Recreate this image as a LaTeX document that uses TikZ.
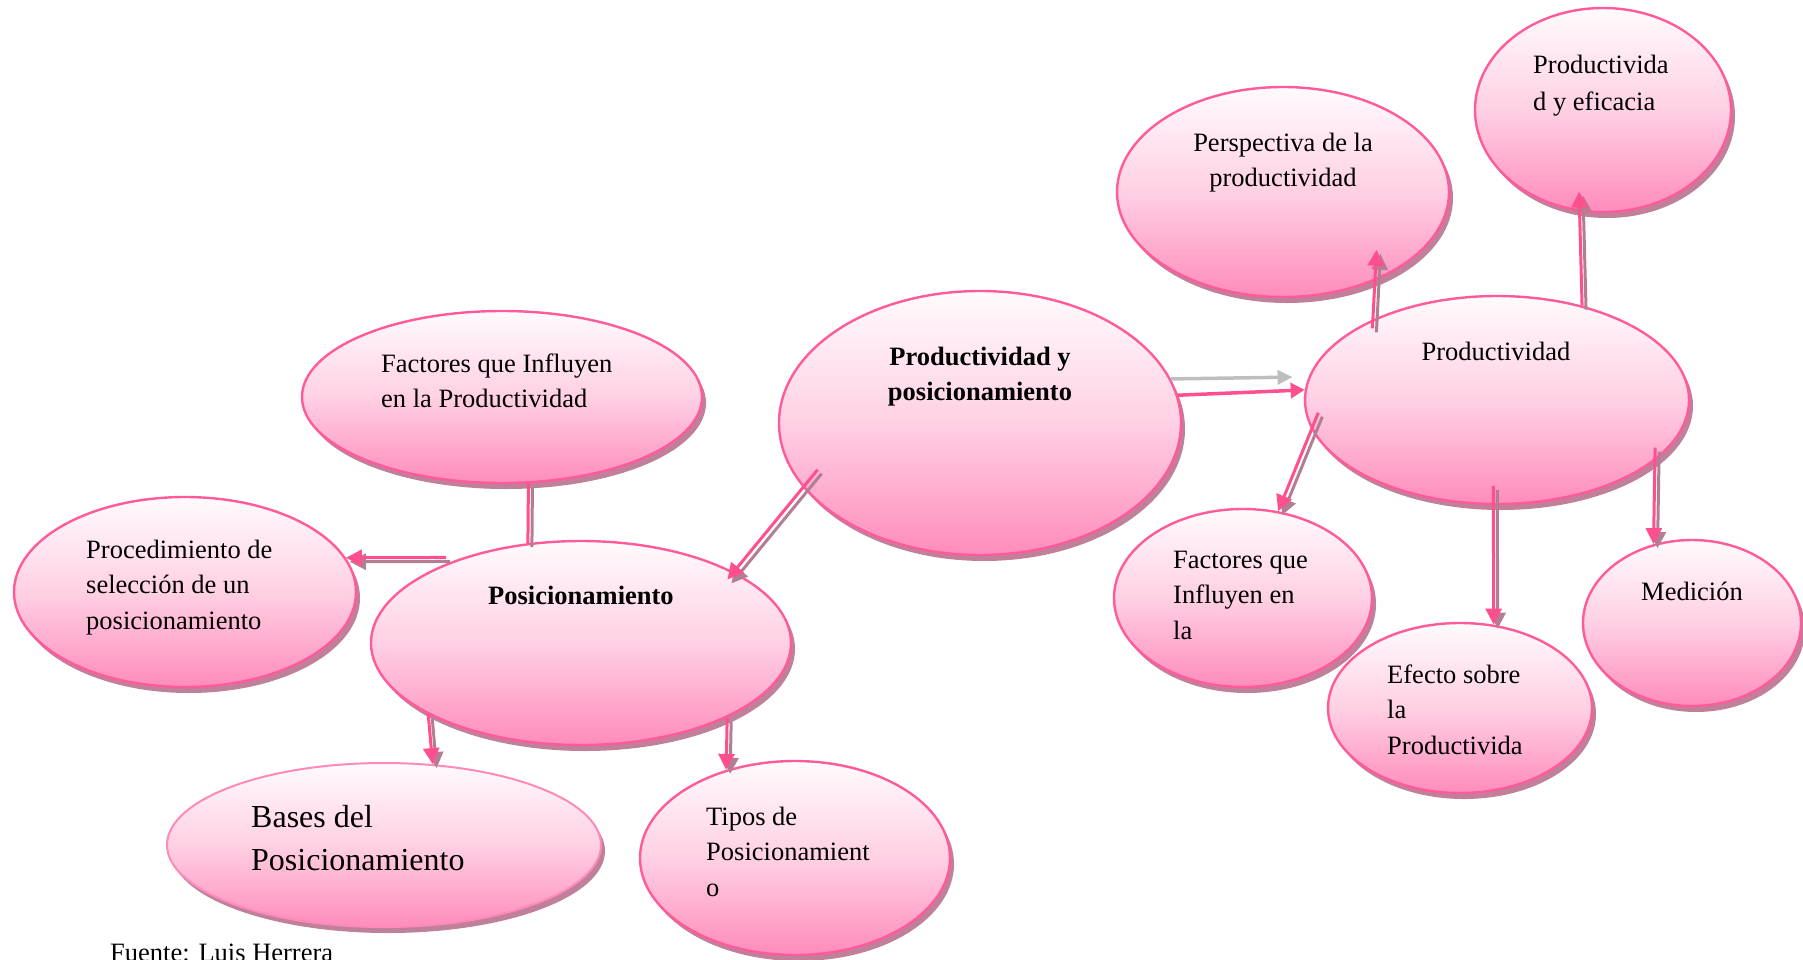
\documentclass[tikz,border=0pt]{standalone}
\usepackage{fontspec}
\setmainfont{Liberation Serif}
\usetikzlibrary{shapes.geometric,shadows,arrows.meta}

\definecolor{rim}{HTML}{FF5A9A}
\definecolor{softrim}{HTML}{FF8AB9}
\definecolor{fillTop}{HTML}{FFFBFD}
\definecolor{fillMid}{HTML}{FFD0E3}
\definecolor{fillBot}{HTML}{FF8CBB}
\definecolor{blobshade}{HTML}{C0809A}
\definecolor{arrowpink}{HTML}{FF4F8F}
\definecolor{lineshade}{HTML}{B27E92}
\definecolor{greyarrow}{HTML}{BEBEBE}

\tikzset{
  blob/.style={ellipse, draw=rim, line width=2.4pt, inner sep=0pt,
    top color=fillTop, bottom color=fillBot, middle color=fillMid,
    drop shadow={shadow xshift=4pt, shadow yshift=-6pt, fill=blobshade, opacity=1}},
  label/.style={inner sep=0pt, font=\fontsize{26.5}{35.5}\selectfont, align=left, anchor=base west},
  clabel/.style={label, align=center, anchor=base},
  link/.style={draw=arrowpink, line width=3pt, -{Triangle[length=16pt,width=16pt]}},
  linkshade/.style={draw=lineshade, line width=3pt, -{Triangle[length=16pt,width=16pt]},
    transform canvas={xshift=4pt,yshift=-4pt}},
}

% shadowed pink connector: #1 extra options, #2 start, #3 end
\newcommand\pinklink[3][]{%
  \draw[linkshade,#1] #2 -- #3;
  \draw[link,#1] #2 -- #3;}

\begin{document}
\begin{tikzpicture}[x=1pt,y=-1pt]
\useasboundingbox (0,0) rectangle (1803,959);

% ellipses
\node[blob, minimum width=400pt, minimum height=172pt] (fac) at (502,397) {};
\node[blob, minimum width=342pt, minimum height=190pt] (proc) at (185,592) {};
\node[blob, minimum width=420pt, minimum height=204pt] (posi) at (581,643) {};
\node[blob, draw=softrim, line width=2pt, minimum width=434pt, minimum height=164pt] (bases) at (384,845) {};
\node[blob, minimum width=310pt, minimum height=194pt] (tipos) at (795,858) {};
\node[blob, minimum width=402pt, minimum height=264pt] (prodpos) at (980,423) {};
\node[blob, minimum width=332pt, minimum height=210pt] (persp) at (1283,192) {};
\node[blob, minimum width=256pt, minimum height=204pt] (efic) at (1603,110) {};
\node[blob, minimum width=384pt, minimum height=208pt] (prod) at (1497,400) {};
\node[blob, minimum width=258pt, minimum height=178pt] (facr) at (1243,598) {};
\node[blob, minimum width=264pt, minimum height=170pt] (efecto) at (1460,708) {};
\node[blob, minimum width=218pt, minimum height=166pt] (med) at (1692,623) {};

% texts (a multi-line node sits on the baseline of its last line)
\node[label] (tfac) at (381,407.5) {Factores que Influyen\\en la Productividad};
\node[label] (tproc) at (86,629) {Procedimiento de\\selección de un\\posicionamiento};
\node[label, font=\fontsize{26.5}{35.5}\selectfont\bfseries] (tposi) at (488,604) {Posicionamiento};
\node[label, font=\fontsize{32}{43}\selectfont] (tbases) at (251,870) {Bases del\\Posicionamiento};
\node[label] (ttipos) at (706,896) {Tipos de\\Posicionamient\\o};
\node[clabel, font=\fontsize{26.5}{35.5}\selectfont\bfseries] (tprodpos) at (980,400.5) {Productividad y\\posicionamiento};
\node[clabel] (tpersp) at (1283,186.5) {Perspectiva de la\\productividad};
\node[label, font=\fontsize{26.5}{37}\selectfont] (tefic) at (1533,110) {Productivida\\d y eficacia};
\node[clabel] (tprod) at (1496,360) {Productividad};
\node[label] (tfacr) at (1173,639) {Factores que\\Influyen en\\la};
\node[label] (tefecto) at (1387,754) {Efecto sobre\\la\\Productivida};
\node[clabel] (tmed) at (1692,600) {Medición};
\node[label] (fuente) at (110,961) {Fuente: Luis Herrera};

% connectors
\pinklink[-]{(fac.-73)}{(posi.118)}
\pinklink[shorten <=17pt]{(posi.144)}{(proc.12)}
\pinklink[shorten <=-23pt, shorten >=-10pt]{(prodpos.200)}{(posi.25)}
\pinklink{(posi.205.8)}{(bases.59)}
\pinklink{(posi.-27)}{(tipos.128.5)}
\draw[greyarrow, line width=3.5pt, -{Triangle[length=15pt,width=14pt]}, shorten >=16pt]
  (prodpos.13.4) -- (prod.173.3);
\draw[arrowpink, line width=3.5pt, -{Triangle[length=14pt,width=15pt]}]
  (prodpos.8.7) -- (prod.177.9);
\pinklink[shorten <=-18pt]{(prod.189.6)}{(facr.68.4)}
\pinklink[shorten <=-9pt, shorten >=-31pt]{(prod.147.7)}{(persp.-44.9)}
\pinklink[shorten >=-20pt]{(prod.48.9)}{(efic.-103.5)}
\pinklink[shorten <=-19pt]{(prod.-92.2)}{(efecto.68.1)}
\pinklink[shorten <=-13pt]{(prod.-21.2)}{(med.116.7)}
\end{tikzpicture}
\end{document}
